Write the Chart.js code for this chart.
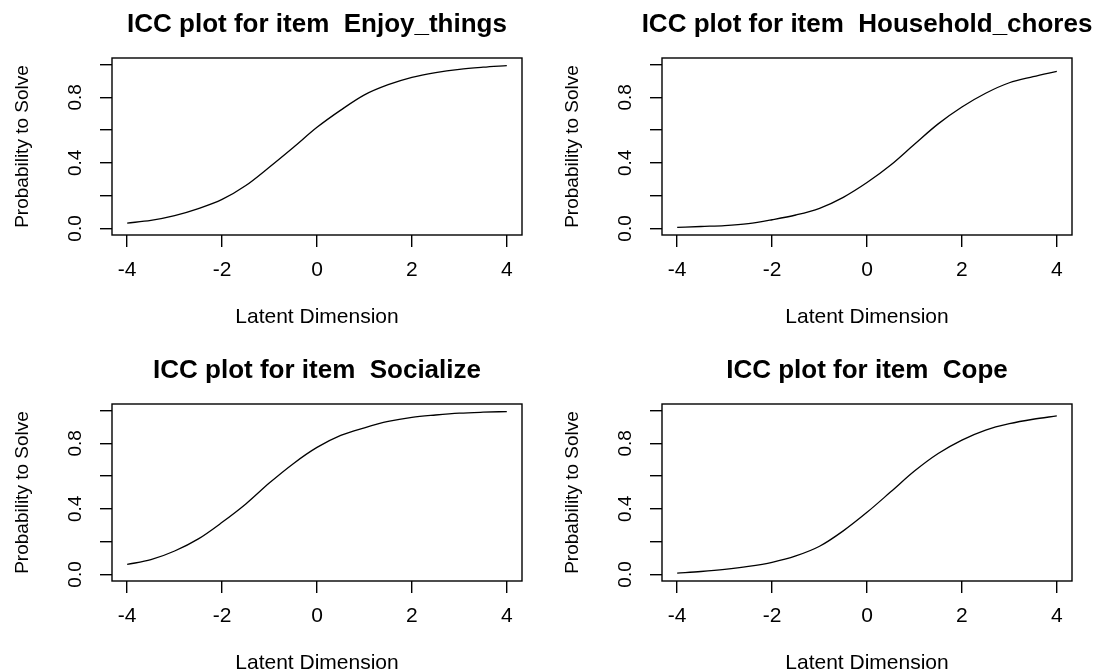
<!DOCTYPE html>
<html>
<head>
<meta charset="utf-8">
<title>ICC plots</title>
<script src="https://cdn.jsdelivr.net/npm/chart.js@4.4.1/dist/chart.umd.min.js"></script>
<style>
  body { margin: 0; background: #fff; overflow: hidden; }
  #grid { position: relative; width: 1096px; height: 670px; overflow: hidden; background: #fff; }
  .panel { position: absolute; width: 548px; height: 345px; }
</style>
</head>
<body>
<div id="grid">
  <div class="panel" style="left:0;top:0"><canvas id="icc1" width="548" height="345"></canvas></div>
  <div class="panel" style="left:550px;top:0"><canvas id="icc2" width="548" height="345"></canvas></div>
  <div class="panel" style="left:0;top:346px"><canvas id="icc3" width="548" height="345"></canvas></div>
  <div class="panel" style="left:550px;top:346px"><canvas id="icc4" width="548" height="345"></canvas></div>
</div>
<script>
// latent trait grid and probability of endorsing each item
const theta = [-4, -3.5, -3, -2.5, -2, -1.5, -1, -0.5, 0, 0.5, 1, 1.5, 2, 2.5, 3, 3.5, 4];
const enjoyThings = [0.033, 0.049, 0.078, 0.121, 0.177, 0.262, 0.375, 0.494, 0.617, 0.722, 0.815, 0.877, 0.922, 0.951, 0.971, 0.984, 0.994];
const householdChores = [0.006, 0.012, 0.017, 0.029, 0.053, 0.082, 0.123, 0.19, 0.28, 0.387, 0.514, 0.638, 0.741, 0.825, 0.889, 0.926, 0.959];
const socialize = [0.061, 0.09, 0.143, 0.217, 0.318, 0.43, 0.559, 0.676, 0.775, 0.848, 0.895, 0.934, 0.959, 0.973, 0.984, 0.99, 0.994];
const cope = [0.008, 0.018, 0.031, 0.049, 0.074, 0.113, 0.172, 0.266, 0.379, 0.504, 0.631, 0.738, 0.82, 0.881, 0.92, 0.947, 0.967];

const xTicks = [-4, -2, 0, 2, 4];
const xTickLabels = ['-4', '-2', '0', '2', '4'];
const yTicks = [0, 0.2, 0.4, 0.6, 0.8, 1];
const yTickLabels = ['0.0', '', '0.4', '', '0.8', ''];

const FONT = '"Liberation Sans", Arial, sans-serif';
const INK = '#000';

// box round the plot region and the main title centred over it
const framePlugin = {
    id: 'frame',
    afterDraw(chart, args, opts) {
        const { ctx, chartArea: a } = chart;
        ctx.save();
        ctx.strokeStyle = INK;
        ctx.lineWidth = 1.4;
        ctx.strokeRect(a.left, a.top, a.right - a.left, a.bottom - a.top);
        ctx.fillStyle = INK;
        ctx.font = 'bold 26px ' + FONT;
        ctx.textAlign = 'center';
        ctx.textBaseline = 'middle';
        ctx.fillText(opts.title, (a.left + a.right) / 2, 25);
        ctx.restore();
    }
};

const drawIcc = (id, item, probs) => {
    const ctx = document.getElementById(id);
    new Chart(ctx, {
        type: 'line',
        data: {
            datasets: [
                {
                    data: theta.map((t, i) => ({ x: t, y: probs[i] })),
                    borderColor: INK,
                    borderWidth: 1.3,
                    pointRadius: 0,
                    cubicInterpolationMode: 'monotone',
                    fill: false,
                },
            ],
        },
        options: {
            responsive: false,
            animation: false,
            events: [],
            layout: { padding: { top: 58, right: 26, left: 0, bottom: 0 } },
            plugins: {
                legend: { display: false },
                tooltip: { enabled: false },
                frame: { title: 'ICC plot for item  ' + item },
            },
            scales: {
                x: {
                    type: 'linear',
                    min: -4.32,
                    max: 4.32,
                    afterBuildTicks: (s) => { s.ticks = xTicks.map(v => ({ value: v })); },
                    afterFit: (s) => { s.height = 110; },
                    grid: { drawOnChartArea: false, tickLength: 12, color: INK, lineWidth: 1.4 },
                    border: { display: false },
                    ticks: {
                        autoSkip: false,
                        maxRotation: 0,
                        padding: 11,
                        color: INK,
                        font: { family: FONT, size: 21 },
                        callback: (v, i) => xTickLabels[i],
                    },
                    title: {
                        display: true,
                        text: 'Latent Dimension',
                        color: INK,
                        font: { family: FONT, size: 21 },
                        padding: { bottom: 15 },
                    },
                },
                y: {
                    min: -0.04,
                    max: 1.04,
                    afterBuildTicks: (s) => { s.ticks = yTicks.map(v => ({ value: v })); },
                    afterFit: (s) => { s.width = 112; },
                    grid: { drawOnChartArea: false, tickLength: 12, color: INK, lineWidth: 1.4 },
                    border: { display: false },
                    ticks: {
                        autoSkip: false,
                        minRotation: 90,
                        maxRotation: 90,
                        crossAlign: 'center',
                        padding: 11,
                        color: INK,
                        font: { family: FONT, size: 19 },
                        callback: (v, i) => yTickLabels[i],
                    },
                    title: {
                        display: true,
                        text: 'Probability to Solve',
                        color: INK,
                        font: { family: FONT, size: 19 },
                        padding: { top: 11 },
                    },
                },
            },
        },
        plugins: [framePlugin],
    });
};

drawIcc('icc1', 'Enjoy_things', enjoyThings);
drawIcc('icc2', 'Household_chores', householdChores);
drawIcc('icc3', 'Socialize', socialize);
drawIcc('icc4', 'Cope', cope);
</script>
</body>
</html>
